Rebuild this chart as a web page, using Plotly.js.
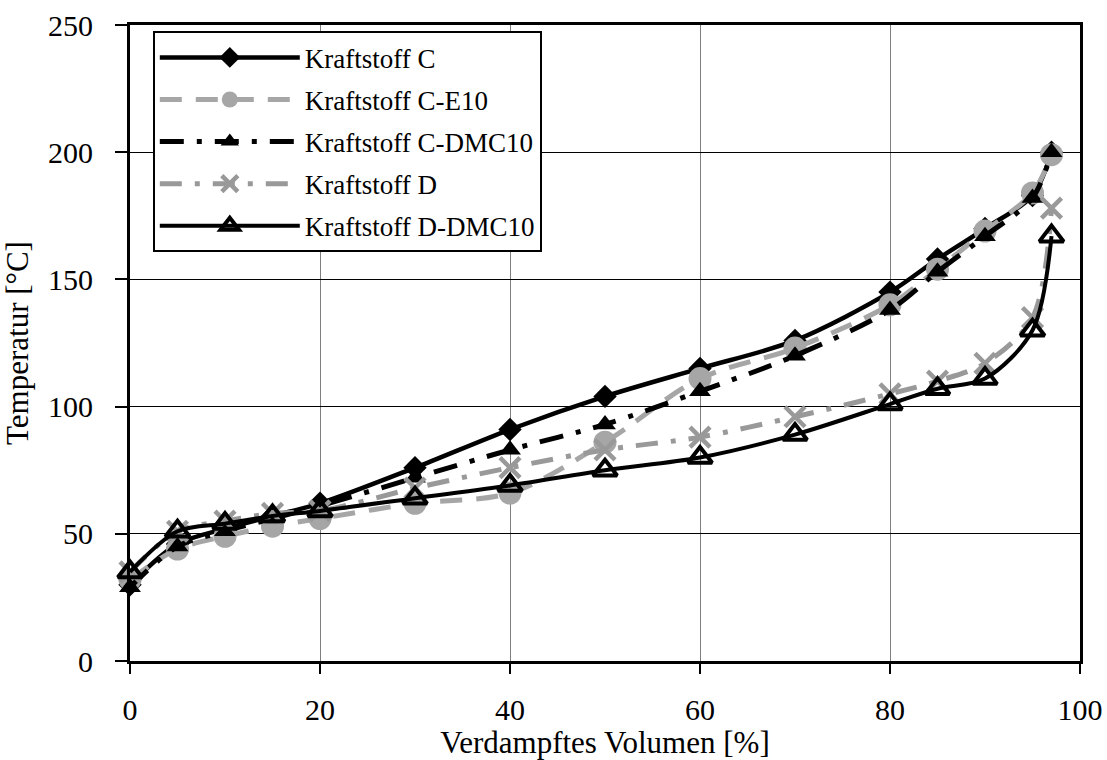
<!DOCTYPE html>
<html>
<head>
<meta charset="utf-8">
<script src="https://cdn.plot.ly/plotly-3.0.1.min.js"></script>
<style>html,body{margin:0;padding:0;background:#fff;}#chart{width:1107px;height:760px;}</style>
</head>
<body>
<div id="chart"></div>
<script>
// Data
const volume = [0, 5, 10, 15, 20, 30, 40, 50, 60, 70, 80, 85, 90, 95, 97];
const seriesNames = ["Kraftstoff C", "Kraftstoff C-E10", "Kraftstoff C-DMC10", "Kraftstoff D", "Kraftstoff D-DMC10"];
const kraftstoffC      = [30, 46, 52, 57, 62, 76, 91, 104, 115, 126, 145, 158, 170, 183, 200];
const kraftstoffCE10   = [32, 44, 49, 53, 56, 62, 66, 86, 111, 123, 140, 154, 169, 184, 199];
const kraftstoffCDMC10 = [29, 45, 51, 56, 61, 72, 83, 93, 106, 120, 138, 153, 167, 182, 200];
const kraftstoffD      = [35, 51, 55, 58, 59, 68, 76, 83, 88, 96, 105, 110, 117, 135, 178];
const kraftstoffDDMC10 = [35, 51, 54, 57, 59, 64, 69, 75, 80, 89, 101, 107, 111, 130, 167];
const xTicks = [0, 20, 40, 60, 80, 100];
const yTicks = [0, 50, 100, 150, 200, 250];

const font = "Liberation Serif, DejaVu Serif, serif";

function tr(name, y, line, marker, grp) {
  return {
    x: volume, y: y, name: name, type: "scatter", mode: "lines+markers",
    line: Object.assign({shape: "spline", smoothing: 0.9}, line),
    marker: marker, legendgroup: grp, cliponaxis: false
  };
}

const data = [
  tr(seriesNames[0], kraftstoffC, {color: "#000", width: 4.5, dash: "solid"},
     {symbol: "diamond", size: 18, color: "#000"}, "g1"),
  tr(seriesNames[1], kraftstoffCE10, {color: "#a6a6a6", width: 5, dash: "22px,14px"},
     {symbol: "circle", size: 23, color: "#a6a6a6"}, "g2"),
  tr(seriesNames[2], kraftstoffCDMC10, {color: "#000", width: 5, dash: "24px,13px,5px,13px"},
     {symbol: "triangle-up", size: 19, color: "#000"}, "g3"),
  tr(seriesNames[3], kraftstoffD, {color: "#999999", width: 5, dash: "22px,13px,5px,13px"},
     {symbol: "x-thin-open", size: 20, color: "#999999", line: {color: "#999999", width: 4.5}}, "g4"),
  tr(seriesNames[4], kraftstoffDDMC10, {color: "#000", width: 4, dash: "solid"},
     {symbol: "triangle-up-open", size: 21, color: "#000", line: {color: "#000", width: 4}}, "g5")
];

const layout = {
  width: 1107, height: 760,
  margin: {l: 130, r: 27, t: 25, b: 99},
  paper_bgcolor: "#fff", plot_bgcolor: "#fff",
  font: {family: font, size: 30, color: "#000"},
  showlegend: true,
  legend: {
    x: 0.024, y: 0.99, xanchor: "left", yanchor: "top",
    bgcolor: "#fff", bordercolor: "#000", borderwidth: 2,
    font: {family: font, size: 27, color: "#000"},
    traceorder: "grouped", tracegroupgap: 4, itemwidth: 140
  },
  xaxis: {
    range: [0, 100], tickvals: xTicks, ticktext: xTicks.map(String),
    showgrid: true, gridcolor: "#7f7f7f", gridwidth: 1,
    showline: true, linecolor: "#000", linewidth: 3, mirror: true,
    ticks: "outside", ticklen: 10, tickwidth: 2, tickcolor: "#000",
    ticklabelstandoff: 10,
    zeroline: false,
    title: {text: "Verdampftes Volumen [%]", font: {family: font, size: 31}, standoff: 0},
    tickfont: {family: font, size: 30}
  },
  yaxis: {
    range: [0, 250], tickvals: yTicks, ticktext: yTicks.map(String),
    showgrid: true, gridcolor: "#000", gridwidth: 1,
    showline: true, linecolor: "#000", linewidth: 3, mirror: true,
    ticks: "outside", ticklen: 12, tickwidth: 2, tickcolor: "#000",
    ticklabelstandoff: 16,
    zeroline: false,
    title: {text: "Temperatur [°C]", font: {family: font, size: 31}, standoff: 12},
    tickfont: {family: font, size: 30}
  }
};

Plotly.newPlot("chart", data, layout, {displayModeBar: false, staticPlot: true});
</script>
</body>
</html>
